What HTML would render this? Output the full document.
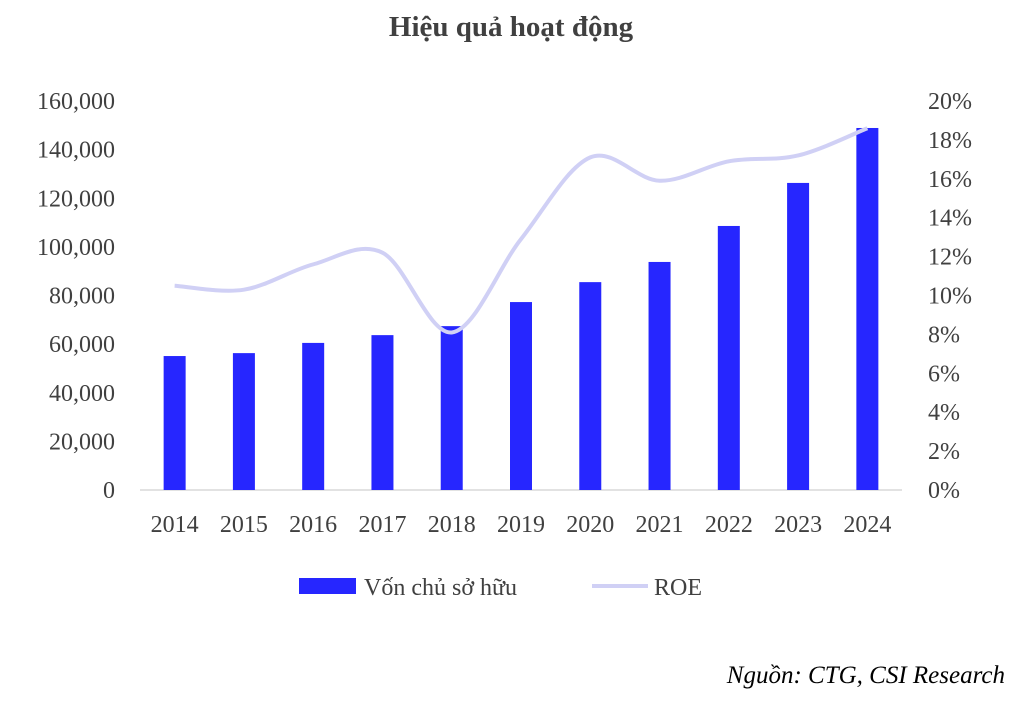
<!DOCTYPE html>
<html><head><meta charset="utf-8"><style>
body{margin:0;background:#fff;}
svg{display:block;font-family:"Liberation Serif",serif;}
</style></head><body>
<svg id="chart" width="1022" height="705">
<text x="511" y="36" text-anchor="middle" font-size="29" font-weight="bold" fill="#404040">Hiệu quả hoạt động</text>
<g id="axes"></g><g id="bars"></g><g id="line"></g>
<g>
<rect x="299" y="578" width="57" height="16" fill="#2626FF"/>
<text x="364" y="595" font-size="24" fill="#404040">Vốn chủ sở hữu</text>
<line x1="592" y1="586" x2="648" y2="586" stroke="#D0D0F5" stroke-width="4"/>
<text x="654" y="595" font-size="24" fill="#404040">ROE</text>
</g>
<text x="1005" y="683" text-anchor="end" font-size="25" font-style="italic" fill="#000">Nguồn: CTG, CSI Research</text>
</svg>
<script>
const years=["2014","2015","2016","2017","2018","2019","2020","2021","2022","2023","2024"];
const equity=[55100,56300,60500,63700,67400,77300,85500,93800,108600,126300,148900];
const roe=[10.5,10.3,11.6,12.2,8.1,12.9,17.1,15.9,16.9,17.2,18.6];
const leftTicks=["0","20,000","40,000","60,000","80,000","100,000","120,000","140,000","160,000"];
const rightTicks=["0%","2%","4%","6%","8%","10%","12%","14%","16%","18%","20%"];
const NS="http://www.w3.org/2000/svg";
const y0=490,y1=101,x0=140,x1=902;
const yL=v=>y0-(v/160000)*(y0-y1);
const yR=v=>y0-(v/20)*(y0-y1);
const step=(x1-x0)/years.length;
const xC=i=>x0+step*(i+0.5);
function mk(tag,attrs,parent){const e=document.createElementNS(NS,tag);for(const k in attrs)e.setAttribute(k,attrs[k]);parent.appendChild(e);return e;}
const axes=document.getElementById("axes"),bars=document.getElementById("bars"),line=document.getElementById("line");
const base=mk("line",{x1:x0,x2:x1,y1:y0,y2:y0,stroke:"#D9D9D9","stroke-width":1.5},axes);


leftTicks.forEach((t,i)=>{const e=mk("text",{x:115,y:yL(i*20000)+8,"text-anchor":"end","font-size":24,fill:"#404040"},axes);e.textContent=t;

});
rightTicks.forEach((t,i)=>{const e=mk("text",{x:928,y:yR(i*2)+8,"font-size":24,fill:"#404040"},axes);e.textContent=t;

});
years.forEach((t,i)=>{const e=mk("text",{x:xC(i),y:532,"text-anchor":"middle","font-size":24,fill:"#404040"},axes);e.textContent=t;

});
equity.forEach((v,i)=>{const b=mk("rect",{x:xC(i)-11,y:yL(v),width:22,height:y0-yL(v),fill:"#2626FF"},bars);

});
const pts=roe.map((v,i)=>[xC(i),yR(v)]);
let d="M"+pts[0][0]+","+pts[0][1];
for(let i=0;i<pts.length-1;i++){const p0=pts[Math.max(0,i-1)],p1=pts[i],p2=pts[i+1],p3=pts[Math.min(pts.length-1,i+2)];
const c1=[p1[0]+(p2[0]-p0[0])/6,p1[1]+(p2[1]-p0[1])/6],c2=[p2[0]-(p3[0]-p1[0])/6,p2[1]-(p3[1]-p1[1])/6];
d+=" C"+c1+" "+c2+" "+p2;}
const pl=mk("path",{d:d,fill:"none",stroke:"#D0D0F5","stroke-width":4},line);


</script>
</body></html>
